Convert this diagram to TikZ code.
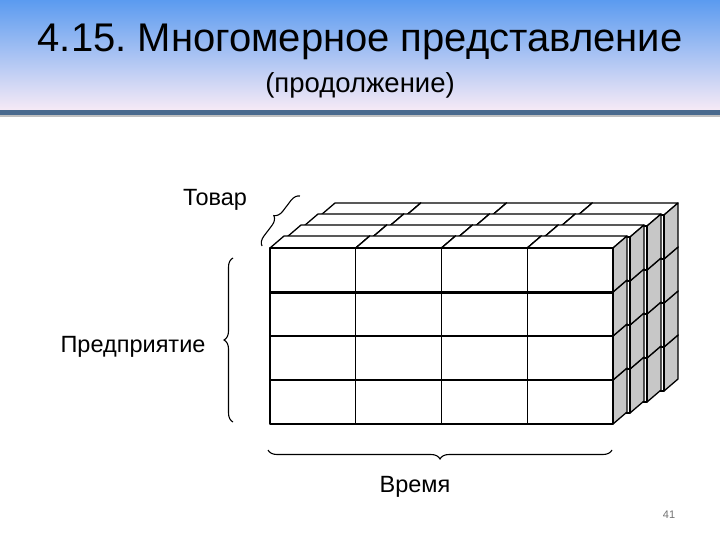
\documentclass[tikz,border=0pt]{standalone}
\usepackage{fontspec}
\setmainfont{Liberation Sans}
\usetikzlibrary{decorations.pathreplacing}
\frenchspacing
\definecolor{topblue}{HTML}{5B9BF0}
\definecolor{botpink}{HTML}{F6EAF6}
\definecolor{rulec}{HTML}{4A6A8E}
\tikzset{cubewhite/.style={draw=black,line width=1.3pt,fill=white,line join=round},
 cubegray/.style={draw=black,line width=1.3pt,fill=black!22,line join=round},
 lbl/.style={font=\fontsize{23.5}{26}\selectfont},
 brc/.style={decoration={brace,amplitude=9pt},decorate,line width=1.1pt}}
\begin{document}
\begin{tikzpicture}[x=1pt,y=-1pt]
\useasboundingbox (0,0) rectangle (720,540);
\fill[white] (0,0) rectangle (720,540);
\shade[top color=topblue,bottom color=botpink] (0,0) rectangle (720,110);
\fill[rulec] (0,110) rectangle (720,115);
\fill[black!25] (0,115) rectangle (720,117);
\node (title) at (360,42) {\fontsize{40}{44}\selectfont 4.15.\ Многомерное представление};
\node (sub) at (360,85) {\fontsize{27.5}{30}\selectfont (продолжение)};
\def\W{85.75}\def\H{44}\def\dx{14}\def\dy{-12}
\foreach \k in {3,2,1,0}{
 \foreach \r in {3,2,1,0}{
  \foreach \c in {0,1,2,3}{
   \pgfmathsetmacro\xa{270+17*\k+\W*\c}
   \pgfmathsetmacro\ya{248-11*\k+\H*\r}
   \pgfmathsetmacro\xb{\xa+\W}
   \pgfmathsetmacro\yb{\ya+\H}
   \filldraw[cubewhite] (\xa,\ya) -- ++(\dx,\dy) -- ++(\W,0) -- (\xb,\ya) -- cycle;
   \filldraw[cubegray] (\xb,\ya) -- ++(\dx,\dy) -- ++(0,\H) -- (\xb,\yb) -- cycle;
   \filldraw[cubewhite] (\xa,\ya) rectangle (\xb,\yb);
  }
 }
}
\draw[line width=3pt] (270,292) -- (613,292);
\coordinate (t1) at (262,246); \coordinate (t2) at (300,196);
\draw[brc] (t1) -- (t2);
\node[lbl] (tovar) at (215,200) {Товар};
\coordinate (p1) at (233,422); \coordinate (p2) at (233,258);
\draw[brc] (p1) -- (p2);
\node[lbl] (pred) at (133,347) {Предприятие};
\coordinate (v1) at (612,450); \coordinate (v2) at (268,450);
\draw[brc] (v1) -- (v2);
\node[lbl] (vrem) at (415,487) {Время};
\node[font=\fontsize{11}{12}\selectfont,text=black!55] (num) at (669,515) {41};
\end{tikzpicture}
\end{document}
